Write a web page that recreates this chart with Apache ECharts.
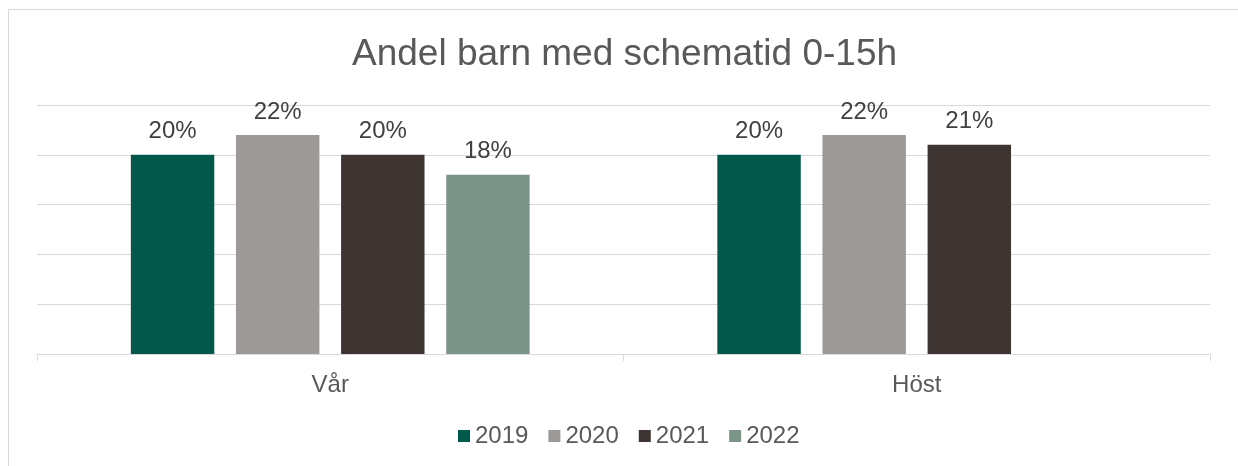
<!DOCTYPE html>
<html>
<head>
<meta charset="utf-8">
<script src="https://cdn.jsdelivr.net/npm/echarts@6/dist/echarts.min.js"></script>
<style>
html,body{margin:0;padding:0;background:#fff;}
#c{width:1238px;height:466px;}
</style>
</head>
<body>
<div id="c"></div>
<script>
const categories = ['Vår', 'Höst'];
const seriesNames = ['2019', '2020', '2021', '2022'];
const values2019 = [20, 20];
const values2020 = [22, 22];
const values2021 = [20, 21];
const values2022 = [18, null];
const colors = ['#02594B', '#9D9997', '#3E3532', '#7B9689'];
const yTicks = { min: 0, max: 25, interval: 5 };

const allValues = [values2019, values2020, values2021, values2022];
const font = '"Liberation Sans", Arial, sans-serif';

const chart = echarts.init(document.getElementById('c'), null, { renderer: 'canvas' });
chart.setOption({
  animation: false,
  backgroundColor: '#ffffff',
  title: {
    text: 'Andel barn med schematid 0-15h',
    left: 347,
    top: 31,
    textStyle: { fontFamily: font, fontSize: 37, fontWeight: 'normal', color: '#595959' }
  },
  graphic: [{
    type: 'rect',
    shape: { x: 8.5, y: 9.5, width: 1400, height: 600 },
    style: { fill: 'none', stroke: '#d9d9d9', lineWidth: 1 },
    silent: true
  }],
  legend: {
    data: seriesNames,
    bottom: 13,
    left: 453,
    itemWidth: 12,
    itemHeight: 12,
    itemGap: 20,
    icon: 'rect',
    textStyle: { fontFamily: font, fontSize: 24, color: '#595959' }
  },
  grid: { left: 37, right: 28, top: 105, bottom: 112, containLabel: false },
  xAxis: {
    type: 'category',
    data: categories,
    axisLine: { lineStyle: { color: '#d9d9d9', width: 1 } },
    axisTick: { show: true, length: 7, lineStyle: { color: '#d9d9d9' } },
    axisLabel: { fontFamily: font, fontSize: 24, color: '#595959', margin: 19 }
  },
  yAxis: {
    type: 'value',
    min: yTicks.min,
    max: yTicks.max,
    interval: yTicks.interval,
    axisLabel: { show: false },
    axisLine: { show: false },
    axisTick: { show: false },
    splitLine: { lineStyle: { color: '#d9d9d9', width: 1 } }
  },
  series: seriesNames.map((name, i) => ({
    name: name,
    type: 'bar',
    data: allValues[i],
    barGap: '26%',
    barCategoryGap: '32%',
    itemStyle: { color: colors[i] },
    label: {
      show: true,
      position: 'top',
      distance: 11,
      formatter: '{c}%',
      fontFamily: font,
      fontSize: 24,
      color: '#404040'
    }
  }))
});
</script>
</body>
</html>
